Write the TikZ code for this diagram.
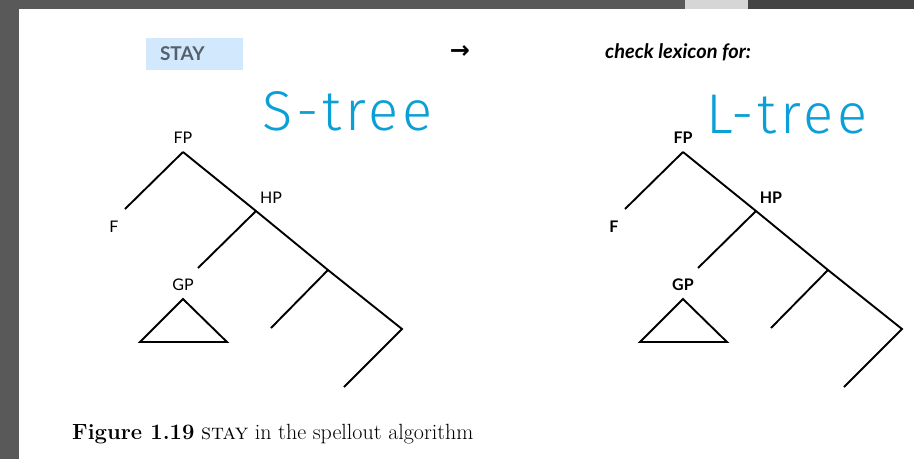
\documentclass[tikz,border=0pt]{standalone}
\usepackage{fontspec}
\usepackage{xcolor}
\usepackage{tikz}
\usetikzlibrary{positioning,arrows.meta,calc}
\newfontfamily\lblfont{Lato}
\newfontfamily\handfont{Fira Sans}[UprightFont=* Light,LetterSpace=7]
\newfontfamily\symfont{DejaVu Sans}
\definecolor{framegray}{HTML}{595959}
\definecolor{tabgray}{HTML}{D6D6D6}
\definecolor{bardark}{HTML}{444444}
\definecolor{hlblue}{HTML}{D2E8FC}
\definecolor{inkblue}{HTML}{0A9FD6}
\definecolor{staygray}{HTML}{56606C}

\begin{document}
\begin{tikzpicture}[x=1pt,y=-1pt,
  lbl/.style={inner sep=0pt,anchor=base},
  br/.style={line width=1.9pt,line join=miter},
  hand/.style={font=\handfont\fontsize{56}{56}\selectfont,text=inkblue,
               inner sep=0pt,anchor=base west}]
\useasboundingbox (0,0) rectangle (914,459);
% screen frame
\fill[framegray] (0,0) rectangle (914,459);
\fill[white] (19,9) rectangle (914,459);
\fill[tabgray] (685,0) rectangle (748,9);
\fill[bardark] (748,0) rectangle (914,9);

% header line
\node[fill=hlblue,text=staygray,text width=69pt,align=left,inner xsep=14pt,
      inner ysep=0pt,minimum height=32pt,
      font=\lblfont\bfseries\fontsize{19}{19}\selectfont] (stay) at (194.5,54) {STAY};
\node[font=\symfont\bfseries\fontsize{24}{24}\selectfont,inner sep=0pt] (arr) at (460,52) {→};
\node[font=\lblfont\bfseries\itshape\fontsize{20}{20}\selectfont,inner sep=0pt,
      anchor=base west] (lex) at (605,58) {check lexicon for:};

% handwritten notes
\node[hand] (stree) at (262,130) {S-tree};
\node[hand] (ltree) at (706,133) {L-tree};

% the two trees
\foreach \t/\dx/\wt in {s/0/\mdseries,l/500/\bfseries}{
\begin{scope}[xshift=\dx]
  \coordinate (\t-fp) at (183,152);
  \coordinate (\t-f) at (125,209);
  \coordinate (\t-hp) at (256,211);
  \coordinate (\t-gp) at (198,268);
  \coordinate (\t-j3) at (328,270);
  \coordinate (\t-e3) at (271,328);
  \coordinate (\t-j4) at (402,329);
  \coordinate (\t-e4) at (344,387);
  \coordinate (\t-tri) at (183,299);
  \coordinate (\t-trl) at (140,342);
  \coordinate (\t-trr) at (227,342);
  \node[lbl,font=\lblfont\wt\fontsize{16}{16}\selectfont] (\t-fpl) at (183,143) {FP};
  \node[lbl,font=\lblfont\wt\fontsize{16}{16}\selectfont] (\t-fl) at (114,232) {F};
  \node[lbl,font=\lblfont\wt\fontsize{16}{16}\selectfont] (\t-hpl) at (271,203) {HP};
  \node[lbl,font=\lblfont\wt\fontsize{16}{16}\selectfont] (\t-gpl) at (183,290) {GP};
  \draw[br] (\t-fp) -- (\t-hp) -- (\t-j3) -- (\t-j4) -- (\t-e4);
  \foreach \u/\v in {fp/f,hp/gp,j3/e3}
    \draw[br] (\t-\u) -- (\t-\v);
  \draw[br] (\t-tri) -- (\t-trl) -- (\t-trr) -- cycle;
\end{scope}
}

% caption
\node[inner sep=0pt,anchor=base west,font=\fontsize{22}{22}\selectfont] (cap) at (72,439)
  {\textbf{Figure 1.19} \textsc{stay} in the spellout algorithm};
\end{tikzpicture}
\end{document}
